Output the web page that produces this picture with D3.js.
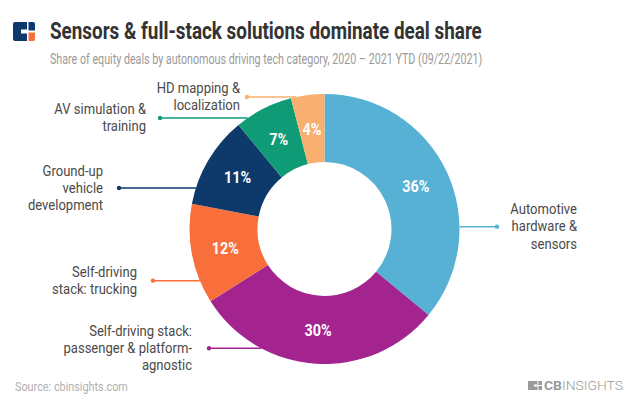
<!DOCTYPE html>
<html>
<head>
<meta charset="utf-8">
<script src="https://cdn.jsdelivr.net/npm/d3@7"></script>
<style>
  html, body { margin: 0; padding: 0; background: #fff; }
  svg { display: block; font-family: Roboto, "Noto Sans", sans-serif; }
</style>
</head>
<body>
<svg id="chart" width="638" height="412"></svg>
<script>
// ---- data ----
const categories = [
  "Automotive hardware & sensors",
  "Self-driving stack: passenger & platform-agnostic",
  "Self-driving stack: trucking",
  "Ground-up vehicle development",
  "AV simulation & training",
  "HD mapping & localization"
];
const shares = [36, 30, 12, 11, 7, 4];
const labelLines = [
  ["Automotive", "hardware &", "sensors"],
  ["Self-driving stack:", "passenger & platform-", "agnostic"],
  ["Self-driving", "stack: trucking"],
  ["Ground-up", "vehicle", "development"],
  ["AV simulation &", "training"],
  ["HD mapping &", "localization"]
];
const colors = ["#56B1D4", "#A3238F", "#F96F3B", "#0E3A6B", "#0F9B76", "#F8AF6F"];

const title = "Sensors & full-stack solutions dominate deal share";
const subtitle = "Share of equity deals by autonomous driving tech category, 2020 \u2013 2021 YTD (09/22/2021)";
const source = "Source: cbinsights.com";

// ---- layout (not data) ----
const cx = 324.5, cy = 229, rOuter = 135, rInner = 67;
// angle (deg, clockwise from top) where each leader line meets the ring, dot x, text right x
const leaders = [
  { angle: 89,    dotX: 497, textX: 577 },
  { angle: 207.9, dotX: 209, textX: 192 },
  { angle: 247.5, dotX: 153, textX: 137 },
  { angle: 287.7, dotX: 119, textX: 103 },
  { angle: 325.3, dotX: 160, textX: 146 },
  { angle: 348,   dotX: 247, textX: 240 }
];

const svg = d3.select("#chart");

// text squeezed horizontally to a target width (condensed look)
function fitText(x, y, width, size, weight, fill, str) {
  const t = svg.append("text").attr("font-size", size).attr("font-weight", weight)
    .attr("fill", fill).text(str);
  const w = t.node().getComputedTextLength();
  const k = Math.min(1, width / w);
  t.attr("transform", `translate(${x},${y}) scale(${k},1)`);
  return t;
}
fitText(50, 39, 432, 24, 700, "#333", title);
fitText(50, 64, 433, 15, 400, "#9a9a9a", subtitle);

// small logo top-left
const logo = svg.append("g").attr("transform", "translate(13,22)");
logo.append("path").attr("fill", "#0E3A6B")
  .attr("d", "M2,0 H14 V7.5 H8 V11.5 H14 V19 H2 Q0,19 0,17 V2 Q0,0 2,0 Z");
logo.append("path").attr("fill", "#0E3A6B")
  .attr("d", "M15.5,0 H20 Q22,0 22,2 V8.5 H15.5 Z");
logo.append("path").attr("fill", "#F96F3B")
  .attr("d", "M15.5,10.5 H22 V17 Q22,19 20,19 H15.5 Z");

// donut
const pie = d3.pie().sort(null).value(d => d)(shares);
const arc = d3.arc().innerRadius(rInner).outerRadius(rOuter);
const g = svg.append("g").attr("transform", `translate(${cx},${cy})`);
g.selectAll("path.slice").data(pie).enter().append("path")
  .attr("class", "slice")
  .attr("d", arc)
  .attr("fill", (d, i) => colors[i]);

const labelArc = d3.arc().innerRadius((rInner + rOuter) / 2).outerRadius((rInner + rOuter) / 2);
g.selectAll("text.pct").data(pie).enter().append("text")
  .attr("class", "pct")
  .attr("transform", d => `translate(${labelArc.centroid(d)}) scale(0.9,1)`)
  .attr("text-anchor", "middle").attr("dy", "0.36em")
  .attr("font-size", 16).attr("font-weight", 700).attr("fill", "#fff")
  .text(d => d.data + "%");

// leaders + category labels
leaders.forEach((L, i) => {
  const a = L.angle * Math.PI / 180;
  const ex = cx + rOuter * Math.sin(a);
  const ey = cy - rOuter * Math.cos(a);
  svg.append("line")
    .attr("x1", L.dotX).attr("y1", ey).attr("x2", ex).attr("y2", ey)
    .attr("stroke", colors[i]).attr("stroke-width", 1.5);
  svg.append("circle").attr("cx", L.dotX).attr("cy", ey).attr("r", 2.2).attr("fill", colors[i]);
  const lines = labelLines[i];
  const lh = 17.2;
  const y0 = ey - (lines.length - 1) * lh / 2;
  const t = svg.append("text")
    .attr("text-anchor", "end")
    .attr("font-size", 15).attr("fill", "#4a4a4a")
    .attr("transform", `translate(${L.textX},${y0}) scale(0.87,1)`);
  lines.forEach((s, k) => {
    t.append("tspan").attr("x", 0).attr("y", k * lh).attr("dy", "0.32em").text(s);
  });
});

// source
fitText(15, 391, 113, 12.5, 400, "#b0b0b0", source);

// CB Insights footer logo
const fl = svg.append("g").attr("transform", "translate(528,381)");
fl.append("rect").attr("x", 0).attr("y", 0).attr("width", 14).attr("height", 9).attr("fill", "#9a9a9a");
fl.append("rect").attr("x", 6).attr("y", 3.5).attr("width", 3).attr("height", 2).attr("fill", "#fff");
fl.append("rect").attr("x", 9.5).attr("y", 0).attr("width", 1).attr("height", 9).attr("fill", "#fff");
fl.append("rect").attr("x", 9.5).attr("y", 4).attr("width", 4.5).attr("height", 1).attr("fill", "#fff");
const ft = fl.append("text").attr("x", 16).attr("y", 9).attr("font-size", 12).attr("fill", "#9a9a9a")
  .attr("textLength", 79).attr("lengthAdjust", "spacingAndGlyphs");
ft.append("tspan").attr("font-weight", 700).text("CB");
ft.append("tspan").attr("font-weight", 300).text("INSIGHTS");
</script>
</body>
</html>
